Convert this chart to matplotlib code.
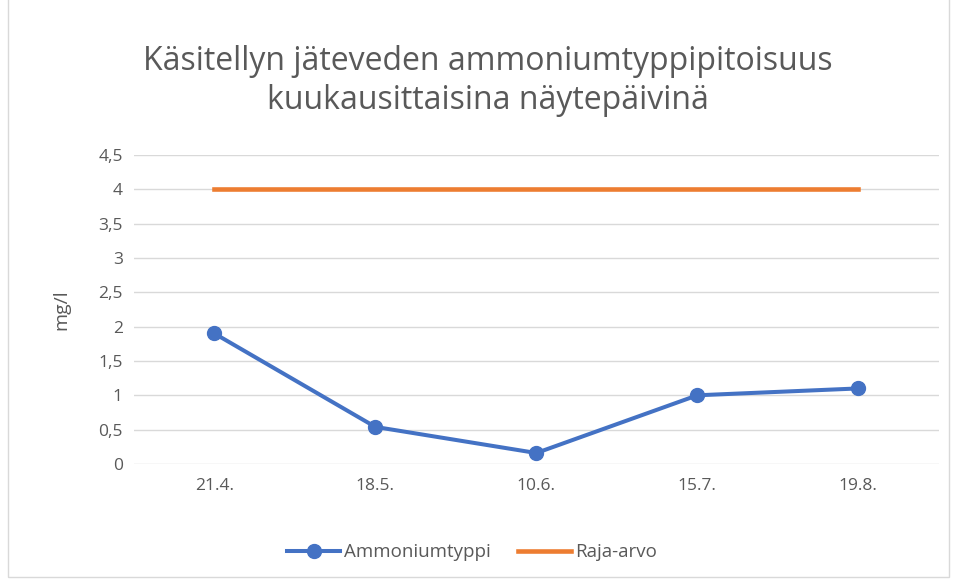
import matplotlib.pyplot as plt
from matplotlib.patches import Rectangle

dates = ["21.4.", "18.5.", "10.6.", "15.7.", "19.8."]
ammonium = [1.9, 0.54, 0.16, 1.0, 1.1]
limit = [4, 4, 4, 4, 4]
y_ticks = [0, 0.5, 1, 1.5, 2, 2.5, 3, 3.5, 4, 4.5]
y_tick_labels = ["0", "0,5", "1", "1,5", "2", "2,5", "3", "3,5", "4", "4,5"]

TEXT = "#595959"
plt.rcParams["font.family"] = ["Open Sans", "DejaVu Sans"]

fig = plt.figure(figsize=(9.56, 5.8), dpi=100)
fig.patches.append(Rectangle((0.008, 0.005), 0.985, 1.2, transform=fig.transFigure,
                             fill=False, edgecolor="#d9d9d9", linewidth=1))
ax = fig.add_axes([0.140, 0.2, 0.842, 0.533])

x = range(len(dates))
ax.plot(x, ammonium, color="#4472c4", linewidth=2.9, marker="o", markersize=10,
        label="Ammoniumtyppi", zorder=3)
ax.plot(x, limit, color="#ed7d31", linewidth=3.3, label="Raja-arvo", zorder=3)

ax.set_xlim(-0.5, len(dates) - 0.5)
ax.set_ylim(0, 4.5)
ax.set_xticks(list(x))
ax.set_xticklabels(dates)
ax.set_yticks(y_ticks)
ax.set_yticklabels(y_tick_labels)
ax.tick_params(length=0, labelsize=12.5, colors=TEXT, pad=8)
ax.tick_params(axis="x", pad=10)
ax.grid(axis="y", color="#d9d9d9", linewidth=1)
ax.set_axisbelow(True)
for s in ax.spines.values():
    s.set_visible(False)

ax.set_ylabel("mg/l", fontsize=14, color=TEXT, labelpad=20)

fig.text(0.51, 0.86, "Käsitellyn jäteveden ammoniumtyppipitoisuus\nkuukausittaisina näytepäivinä",
         ha="center", va="center", fontsize=23, color=TEXT, linespacing=1.25)

ax.legend(loc="center", bbox_to_anchor=(0.42, -0.285), ncol=2, frameon=False,
          fontsize=13.5, labelcolor=TEXT, handlelength=2.8, columnspacing=1.5,
          handletextpad=0.2)

fig.savefig("out.png", dpi=100)
